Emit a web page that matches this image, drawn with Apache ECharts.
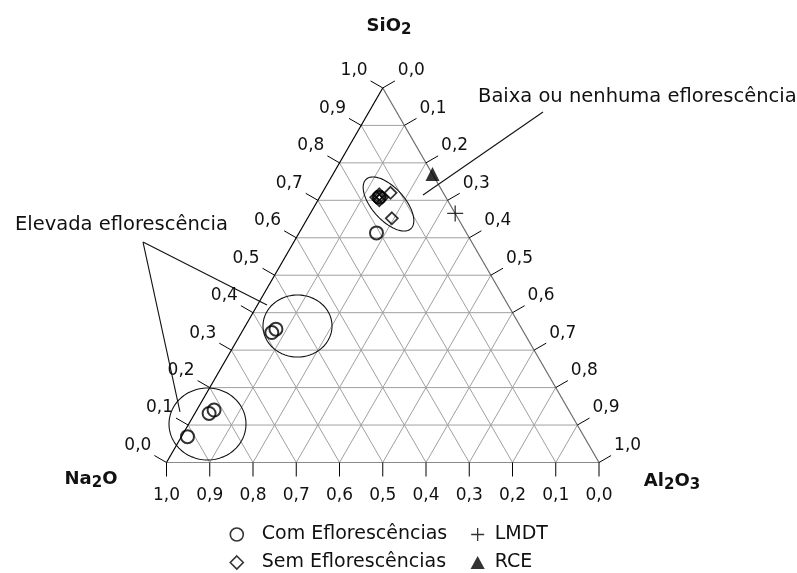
<!DOCTYPE html>
<html>
<head>
<meta charset="utf-8">
<script src="https://cdn.jsdelivr.net/npm/echarts@6/dist/echarts.min.js"></script>
<style>
  html, body { margin: 0; padding: 0; background: #fff; }
  #chart { width: 797px; height: 573px; }
</style>
</head>
<body>
<div id="chart"></div>
<script>
// Compositions as [Na2O, SiO2, Al2O3] mass fractions
const comEflorescencias = [
  [0.917, 0.069, 0.014],
  [0.836, 0.131, 0.033],
  [0.820, 0.140, 0.040],
  [0.583, 0.347, 0.070],
  [0.569, 0.356, 0.075],
  [0.154, 0.708, 0.138],
  [0.208, 0.613, 0.179]
];
const semEflorescencias = [
  [0.122, 0.720, 0.158],
  [0.153, 0.652, 0.195],
  [0.154, 0.708, 0.138],
  [0.161, 0.708, 0.131],
  [0.147, 0.708, 0.145],
  [0.150, 0.716, 0.134],
  [0.158, 0.700, 0.142]
];
const lmdt = [[0.000, 0.665, 0.335]];
const rce = [[0.000, 0.770, 0.230]];

// Axis ticks (fractions) and their printed labels
const tickValues = [0, 0.1, 0.2, 0.3, 0.4, 0.5, 0.6, 0.7, 0.8, 0.9, 1.0];
const tickLabels = ['0,0', '0,1', '0,2', '0,3', '0,4', '0,5', '0,6', '0,7', '0,8', '0,9', '1,0'];

const seriesNames = ['Com Eflorescências', 'Sem Eflorescências', 'LMDT', 'RCE'];
const annotationTexts = ['Elevada eflorescência', 'Baixa ou nenhuma eflorescência'];

const H = Math.sqrt(3) / 2;
// ternary (Na2O, SiO2, Al2O3) -> plane coordinates of an equilateral triangle
function tern(na, si, al) {
  const s = na + si + al;
  return [(al + si / 2) / s, (si * H) / s];
}

// Grouping ellipses, in plane units: centre, semi-axes, tilt (deg, screen)
const groupEllipses = [
  { c: [0.5133, 0.5977], r: [0.0770, 0.0375], tilt: 48 },
  { c: [0.3029, 0.3156], r: [0.0798, 0.0717], tilt: 0 },
  { c: [0.0948, 0.0890], r: [0.0890, 0.0832], tilt: 0 }
];
// Leader lines, in plane units
const leaderLines = [
  [[-0.0543, 0.5098], [0.2324, 0.3642]],
  [[-0.0543, 0.5098], [0.0312, 0.1168]],
  [[0.8705, 0.8104], [0.5931, 0.6185]]
];

const FONT = 'DejaVu Sans';
const GRID_COLOR = '#a0a0a0';

function renderFrame(params, api) {
  const P = (x, y) => api.coord([x, y]);
  const T = (na, si, al) => api.coord(tern(na, si, al));
  const kids = [];
  const line = (a, b, stroke, w) => kids.push({
    type: 'line', shape: { x1: a[0], y1: a[1], x2: b[0], y2: b[1] },
    style: { stroke: stroke, lineWidth: w || 1 }
  });
  const text = (str, x, y, align, vAlign) => kids.push({
    type: 'text', x: x, y: y,
    style: { text: str, fill: '#111', font: '17px ' + FONT, align: align, verticalAlign: vAlign }
  });

  // inner grid
  for (let i = 1; i < tickValues.length - 1; i++) {
    const k = tickValues[i];
    line(T(1 - k, k, 0), T(0, k, 1 - k), GRID_COLOR);      // constant SiO2
    line(T(1 - k, 0, k), T(0, 1 - k, k), GRID_COLOR);      // constant Al2O3
    line(T(k, 0, 1 - k), T(k, 1 - k, 0), GRID_COLOR);      // constant Na2O
  }
  // outline
  line(T(1, 0, 0), T(0, 0, 1), '#8a8a8a', 1.2);
  line(T(0, 1, 0), T(0, 0, 1), '#6a6a6a', 1.2);
  line(T(1, 0, 0), T(0, 1, 0), '#000', 1.2);

  const L = 14;
  const cx = Math.cos(Math.PI / 6), sy = Math.sin(Math.PI / 6);
  tickValues.forEach((v, i) => {
    // bottom: Na2O, 1 at the left corner
    const b = T(v, 0, 1 - v);
    line(b, [b[0], b[1] + L], '#000');
    text(tickLabels[i], b[0], b[1] + L + 19, 'center', 'middle');
    // left: SiO2, 0 at the bottom
    const l = T(1 - v, v, 0);
    const le = [l[0] - cx * L, l[1] - sy * L];
    line(l, le, '#000');
    text(tickLabels[i], le[0] - 3, le[1] - 10, 'right', 'middle');
    // right: Al2O3, 0 at the apex
    const r = T(0, 1 - v, v);
    const re = [r[0] + cx * L, r[1] - sy * L];
    line(r, re, '#000');
    text(tickLabels[i], re[0] + 3, re[1] - 10, 'left', 'middle');
  });

  // grouping ellipses
  groupEllipses.forEach(e => {
    const c = P(e.c[0], e.c[1]);
    const a = api.size([e.r[0], 0])[0];
    const b = api.size([0, e.r[1]])[1];
    const t = e.tilt * Math.PI / 180;
    const pts = [];
    for (let j = 0; j < 120; j++) {
      const th = j / 120 * Math.PI * 2;
      const ex = a * Math.cos(th), ey = b * Math.sin(th);
      pts.push([c[0] + ex * Math.cos(t) - ey * Math.sin(t), c[1] + ex * Math.sin(t) + ey * Math.cos(t)]);
    }
    kids.push({ type: 'polygon', shape: { points: pts }, style: { fill: null, stroke: '#111', lineWidth: 1.1 } });
  });
  // leader lines
  leaderLines.forEach(s => line(P(s[0][0], s[0][1]), P(s[1][0], s[1][1]), '#111', 1.1));

  return { type: 'group', children: kids };
}

// chemical formulas with subscripts laid out by measured width
const measureCtx = document.createElement('canvas').getContext('2d');
function formula(parts, centerX, baseY) {
  const mainFont = 'bold 18px ' + FONT, subFont = 'bold 15px ' + FONT;
  let w = 0;
  parts.forEach(p => { measureCtx.font = p[1] ? subFont : mainFont; p.w = measureCtx.measureText(p[0]).width; w += p.w; });
  let x = centerX - w / 2;
  const els = [];
  parts.forEach(p => {
    els.push({
      type: 'text', left: x, top: p[1] ? baseY - 8 : baseY - 14,
      style: { text: p[0], font: p[1] ? subFont : mainFont, fill: '#111' }
    });
    x += p.w;
  });
  return els;
}

const chart = echarts.init(document.getElementById('chart'), null, { renderer: 'canvas' });

const legendText = { fontFamily: FONT, fontSize: 19, lineHeight: 22, color: '#111' };
// legend icons as paths so they keep their aspect inside the wider icon box
const DIAMOND_ICON = 'path://M6,0L12,6L6,12L0,6Z';
const TRIANGLE_ICON = 'path://M6,0L12,11L0,11Z';

chart.setOption({
  animation: false,
  backgroundColor: '#fff',
  grid: { left: 166.5, right: 198, top: 30, bottom: 110.5 },
  xAxis: { type: 'value', min: 0, max: 1, show: false },
  yAxis: { type: 'value', min: 0, max: 1, show: false },
  legend: [
    {
      data: [
        { name: seriesNames[0], itemStyle: { borderWidth: 1.6 } },
        { name: seriesNames[1], icon: DIAMOND_ICON, itemStyle: { borderWidth: 1.6 } }
      ],
      orient: 'vertical', left: 229.5, top: 523.5, height: 56,
      itemWidth: 40, itemHeight: 13, itemGap: 6, padding: 0, symbolKeepAspect: true,
      textStyle: legendText, selectedMode: false
    },
    {
      data: [
        { name: seriesNames[2], itemStyle: { borderWidth: 1.3 } },
        { name: seriesNames[3], icon: TRIANGLE_ICON }
      ],
      orient: 'vertical', left: 470.5, top: 523.5, height: 56,
      itemWidth: 24, itemHeight: 13, itemGap: 6, padding: 0, symbolKeepAspect: true,
      textStyle: legendText, selectedMode: false
    }
  ],
  graphic: [].concat(
    formula([['Si', 0], ['O', 0], ['2', 1]], 389, 31),
    formula([['Na', 0], ['2', 1], ['O', 0]], 91, 484),
    formula([['Al', 0], ['2', 1], ['O', 0], ['3', 1]], 672, 486),
    [
      { type: 'text', left: 15, top: 215, style: { text: annotationTexts[0], font: '19.5px ' + FONT, fill: '#111' } },
      { type: 'text', left: 478, top: 87, style: { text: annotationTexts[1], font: '19.5px ' + FONT, fill: '#111' } }
    ]
  ),
  series: [
    {
      type: 'custom', name: 'frame', silent: true, clip: false, z: 1,
      data: [[0, 0]], renderItem: renderFrame
    },
    {
      type: 'scatter', name: seriesNames[0], z: 3, symbol: 'circle', symbolSize: 13,
      itemStyle: { color: 'rgba(0,0,0,0)', borderColor: '#000', borderWidth: 2 },
      data: comEflorescencias.map(p => tern(p[0], p[1], p[2]))
    },
    {
      type: 'scatter', name: seriesNames[1], z: 4, symbol: 'diamond', symbolSize: 12,
      itemStyle: { color: 'rgba(0,0,0,0)', borderColor: '#000', borderWidth: 1.8 },
      data: semEflorescencias.map(p => tern(p[0], p[1], p[2]))
    },
    {
      type: 'scatter', name: seriesNames[2], z: 4, symbol: 'path://M0,8H16M8,0V16', symbolSize: 16,
      itemStyle: { color: '#000', borderColor: '#000', borderWidth: 1.3 },
      data: lmdt.map(p => tern(p[0], p[1], p[2]))
    },
    {
      type: 'scatter', name: seriesNames[3], z: 4, symbol: 'triangle', symbolSize: 14,
      itemStyle: { color: '#000' },
      data: rce.map(p => tern(p[0], p[1], p[2]))
    }
  ]
});
</script>
</body>
</html>
